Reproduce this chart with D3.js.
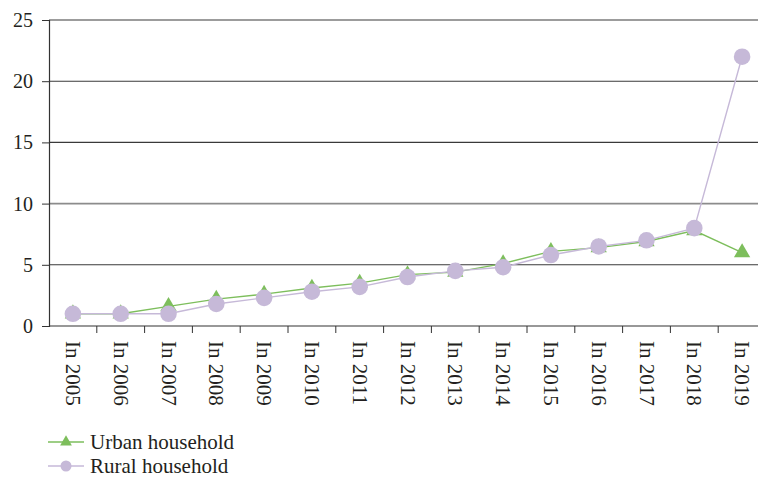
<!DOCTYPE html>
<html>
<head>
  <script src="https://d3js.org/d3.v7.min.js"></script>
  <style>
    body { margin: 0; background: #fff; }
    text { font-family: "Liberation Serif", "DejaVu Serif", serif; fill: #231f20; }
  </style>
</head>
<body>
  <svg width="758" height="478"></svg>
  <script>
    const years = ["In 2005", "In 2006", "In 2007", "In 2008", "In 2009", "In 2010", "In 2011", "In 2012",
                   "In 2013", "In 2014", "In 2015", "In 2016", "In 2017", "In 2018", "In 2019"];
    const urban = [1, 1, 1.6, 2.2, 2.6, 3.1, 3.5, 4.2, 4.4, 5.1, 6.1, 6.4, 6.9, 7.8, 6.0];
    const rural = [1, 1, 1, 1.8, 2.3, 2.8, 3.2, 4.0, 4.5, 4.8, 5.8, 6.5, 7.0, 8.0, 22];
    const yTicks = [0, 5, 10, 15, 20, 25];

    const green = "#7dbe5c";
    const purple = "#c6b9d8";

    const svg = d3.select("svg");
    const left = 49, bandW = 47.8;

    const x = d3.scaleBand()
      .domain(years)
      .range([left, left + years.length * bandW]);
    const y = d3.scaleLinear()
      .domain([0, 25])
      .range([326, 20]);

    // gridlines
    svg.selectAll(".grid")
      .data(yTicks.filter(d => d > 0))
      .enter()
      .append("line")
      .attr("x1", left)
      .attr("x2", 758)
      .attr("y1", d => y(d))
      .attr("y2", d => y(d))
      .attr("stroke", d => d == 10 ? "#8c8c8c" : "#3a3a3a")
      .attr("stroke-width", d => d == 10 ? 1.6 : 1.1);

    // y axis
    const yAxis = svg.append("g")
      .attr("transform", "translate(" + left + ",0)")
      .call(d3.axisLeft(y).tickValues(yTicks).tickSize(7).tickPadding(9));
    yAxis.select(".domain").attr("stroke", "#333").attr("stroke-width", 1.2);
    yAxis.selectAll(".tick line").attr("stroke", "#333");
    yAxis.selectAll(".tick text").style("font-size", "20px");

    // x axis
    svg.append("line")
      .attr("x1", left).attr("x2", 758)
      .attr("y1", y(0)).attr("y2", y(0))
      .attr("stroke", "#333").attr("stroke-width", 1.2);
    svg.selectAll(".xtick")
      .data(years)
      .enter()
      .append("line")
      .attr("x1", d => x(d) + bandW)
      .attr("x2", d => x(d) + bandW)
      .attr("y1", y(0))
      .attr("y2", y(0) + 7)
      .attr("stroke", "#333");
    svg.selectAll(".xlabel")
      .data(years)
      .enter()
      .append("text")
      .attr("transform", d => "translate(" + (x(d) + bandW / 2) + ",341) rotate(90)")
      .attr("dominant-baseline", "central")
      .style("font-size", "21px")
      .text(d => d);

    const cx = (d, i) => x(years[i]) + bandW / 2;
    const line = d3.line().x(cx).y(d => y(d));

    // urban series
    svg.append("path")
      .datum(urban)
      .attr("d", line)
      .attr("fill", "none")
      .attr("stroke", green)
      .attr("stroke-width", 1.4);
    svg.selectAll(".urban")
      .data(urban)
      .enter()
      .append("path")
      .attr("d", d3.symbol().type(d3.symbolTriangle).size(115))
      .attr("transform", (d, i) => "translate(" + cx(d, i) + "," + y(d) + ")")
      .attr("fill", green);

    // rural series
    svg.append("path")
      .datum(rural)
      .attr("d", line)
      .attr("fill", "none")
      .attr("stroke", purple)
      .attr("stroke-width", 1.4);
    svg.selectAll(".rural")
      .data(rural)
      .enter()
      .append("circle")
      .attr("cx", cx)
      .attr("cy", d => y(d))
      .attr("r", 8.3)
      .attr("fill", purple);

    // legend
    const legend = [
      { name: "Urban household", color: green, shape: "tri" },
      { name: "Rural household", color: purple, shape: "circ" }
    ];
    legend.forEach((d, i) => {
      const ly = 442 + i * 24;
      svg.append("line")
        .attr("x1", 48).attr("x2", 84)
        .attr("y1", ly).attr("y2", ly)
        .attr("stroke", d.color).attr("stroke-width", 1.4);
      if (d.shape == "tri") {
        svg.append("path")
          .attr("d", d3.symbol().type(d3.symbolTriangle).size(60))
          .attr("transform", "translate(66," + ly + ")")
          .attr("fill", d.color);
      } else {
        svg.append("circle")
          .attr("cx", 66).attr("cy", ly).attr("r", 5.5)
          .attr("fill", d.color);
      }
      svg.append("text")
        .attr("x", 90).attr("y", ly)
        .attr("dominant-baseline", "central")
        .style("font-size", "21px")
        .text(d.name);
    });
  </script>
</body>
</html>
